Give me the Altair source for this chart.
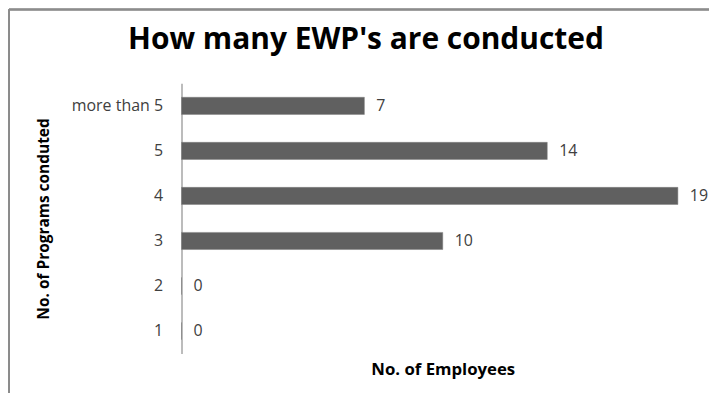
import altair as alt
import pandas as pd

categories = ["more than 5", "5", "4", "3", "2", "1"]
employees = [7, 14, 19, 10, 0, 0]

df = pd.DataFrame({"programs": categories, "employees": employees})

FONT = "Open Sans"
TXT = "#404040"

y_enc = alt.Y(
    "programs:N",
    sort=categories,
    scale=alt.Scale(paddingInner=0.62, paddingOuter=0.31),
    axis=alt.Axis(
        title="No. of Programs conduted",
        titleFont=FONT, titleFontSize=15.5, titleFontWeight="bold", titleColor="#000000",
        titlePadding=20,
        labelFont=FONT, labelFontSize=16, labelColor=TXT, labelPadding=19,
        ticks=False, tickSize=0, grid=False,
        domain=True, domainColor="#a6a6a6", domainWidth=1.5,
    ),
)
x_enc = alt.X(
    "employees:Q",
    scale=alt.Scale(domain=[0, 20], nice=False),
    axis=alt.Axis(
        title="No. of Employees",
        titleFont=FONT, titleFontSize=16.8, titleFontWeight="bold", titleColor="#000000",
        labels=False, ticks=False, tickSize=0, domain=False, grid=False,
        titlePadding=8,
    ),
)

bars = alt.Chart(df).mark_bar(color="#606060", stroke="#808080", strokeWidth=0.5).encode(
    x=x_enc, y=y_enc
)
labels = alt.Chart(df).mark_text(
    align="left", baseline="middle", dx=12, font=FONT, fontSize=16, color=TXT
).encode(x="employees:Q", y=alt.Y("programs:N", sort=categories), text="employees:Q")

frame_left = alt.Chart(df).mark_rule(color="#8c8c8c", strokeWidth=1.5).encode(
    x=alt.value(-173), y=alt.value(-74), y2=alt.value(320)
)
frame_top = alt.Chart(df).mark_rule(color="#8c8c8c", strokeWidth=1.5).encode(
    x=alt.value(-173), x2=alt.value(540), y=alt.value(-74)
)

chart = (
    alt.layer(bars, labels, frame_left, frame_top)
    .properties(
        width=524,
        height=271,
        title=alt.TitleParams(
            "How many EWP's are conducted",
            font=FONT, fontSize=30, fontWeight="bold", color="#000000",
            anchor="middle", offset=0, baseline="alphabetic", dy=70, dx=-77,
        ),
        padding={"left": 174, "top": 75, "right": 5, "bottom": 39},
        autosize=alt.AutoSizeParams(type="none"),
    )
    .configure_view(stroke=None)
)

chart.save("out.html", embed_options={"renderer": "svg", "actions": False})
